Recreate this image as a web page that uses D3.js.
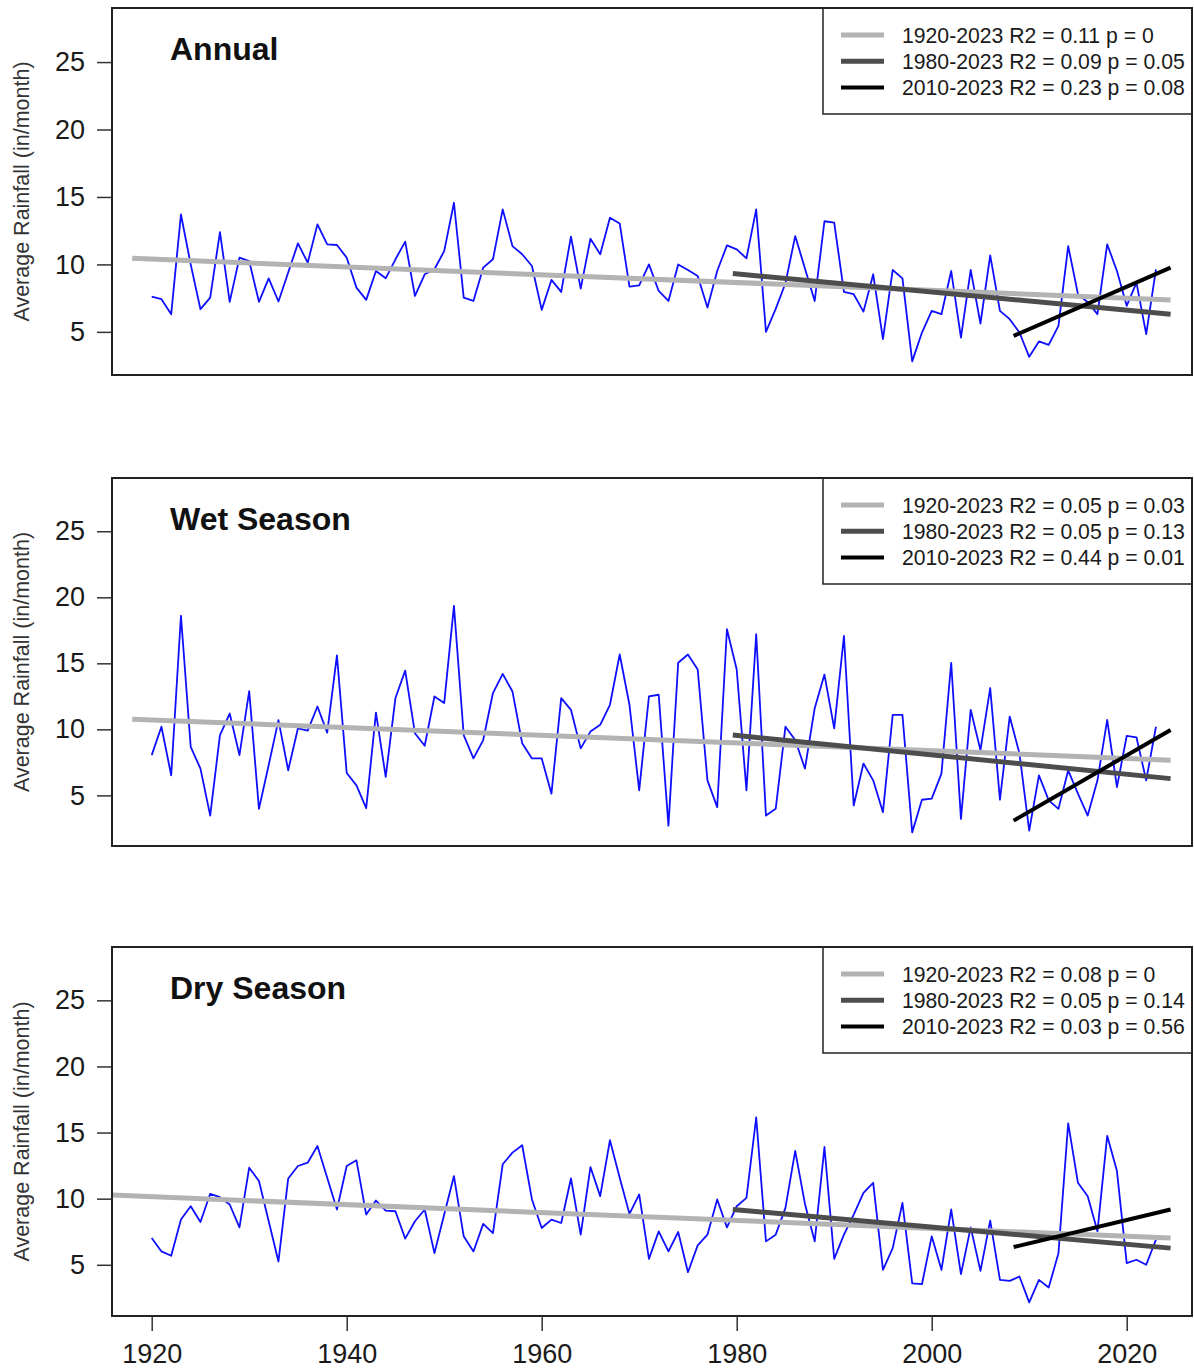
<!DOCTYPE html>
<html>
<head>
<meta charset="utf-8">
<script src="https://cdn.jsdelivr.net/npm/d3@7/dist/d3.min.js"></script>
<style>
body { margin: 0; background: #fff; }
text { font-family: "Liberation Sans", Arial, sans-serif; }
</style>
</head>
<body>
<svg id="svg" width="1194" height="1372"></svg>
<script>
var years = d3.range(1920, 2024);

var annual = [
  7.62, 7.42, 6.31, 13.7, 10.0, 6.68, 7.54, 12.4, 7.22, 10.5,
  10.25, 7.22, 8.97, 7.25, 9.4, 11.56, 10.13, 12.97, 11.49, 11.44,
  10.5, 8.28, 7.37, 9.51, 8.97, 10.38, 11.69, 7.66, 9.27, 9.64,
  10.99, 14.57, 7.54, 7.29, 9.76, 10.38, 14.08, 11.36, 10.75, 9.88,
  6.63, 8.85, 7.96, 12.06, 8.21, 11.9, 10.75, 13.46, 13.04, 8.36,
  8.45, 10.0, 8.03, 7.29, 10.0, 9.59, 9.14, 6.8, 9.51, 11.41,
  11.12, 10.45, 14.08, 5.0, 6.7, 8.6, 12.1, 9.7, 7.29, 13.2,
  13.09, 7.96, 7.79, 6.5, 9.27, 4.46, 9.59, 8.97, 2.81, 4.95,
  6.56, 6.31, 9.51, 4.58, 9.59, 5.62, 10.67, 6.56, 5.94, 4.95,
  3.15, 4.29, 4.04, 5.44, 11.36, 7.8, 7.2, 6.31, 11.49, 9.51,
  6.93, 8.65, 4.83, 9.64
];

var wet = [
  8.05, 10.2, 6.52, 18.6, 8.68, 7.03, 3.47, 9.57, 11.2, 8.05,
  12.9, 3.98, 7.3, 10.7, 6.9, 10.08, 9.9, 11.73, 9.75, 15.6,
  6.7, 5.76, 4.03, 11.27, 6.4, 12.37, 14.45, 9.7, 8.76, 12.49,
  11.99, 19.35, 9.57, 7.8, 9.19, 12.75, 14.2, 12.87, 8.94, 7.8,
  7.8, 5.13, 12.37, 11.48, 8.56, 9.83, 10.34, 11.86, 15.67, 11.86,
  5.38, 12.49, 12.62, 2.71, 15.04, 15.67, 14.53, 6.14, 4.11, 17.58,
  14.53, 5.38, 17.2, 3.47, 3.98, 10.2, 9.19, 7.03, 11.6, 14.15,
  10.08, 17.07, 4.24, 7.41, 6.14, 3.73, 11.1, 11.1, 2.2, 4.67,
  4.75, 6.65, 15.04, 3.22, 11.48, 8.43, 13.13, 4.67, 10.97, 8.18,
  2.33, 6.52, 4.62, 3.98, 6.9, 5.13, 3.47, 6.14, 10.72, 5.63,
  9.5, 9.4, 6.14, 10.2
];

var dry = [
  7.02, 6.01, 5.68, 8.42, 9.43, 8.24, 10.37, 10.11, 9.56, 7.83,
  12.34, 11.33, 8.29, 5.25, 11.53, 12.47, 12.72, 13.99, 11.58, 9.18,
  12.47, 12.9, 8.8, 9.86, 9.1, 9.05, 6.98, 8.29, 9.18, 5.88,
  8.8, 11.71, 7.15, 6.01, 8.09, 7.4, 12.6, 13.48, 14.04, 9.94,
  7.78, 8.42, 8.16, 11.53, 7.28, 12.39, 10.19, 14.42, 11.58, 8.85,
  10.32, 5.45, 7.53, 6.01, 7.48, 4.44, 6.47, 7.28, 9.94, 7.83,
  9.43, 10.06, 16.14, 6.77, 7.28, 9.3, 13.61, 9.6, 6.77, 13.91,
  5.45, 7.28, 8.8, 10.44, 11.2, 4.62, 6.26, 9.68, 3.6, 3.53,
  7.15, 4.62, 9.18, 4.29, 7.83, 4.54, 8.34, 3.86, 3.78, 4.11,
  2.16, 3.86, 3.28, 5.88, 15.69, 11.2, 10.19, 7.53, 14.75, 12.09,
  5.12, 5.38, 5.0, 6.9
];

var panelTitles = ["Annual", "Wet Season", "Dry Season"];
var periods = ["1920-2023", "1980-2023", "2010-2023"];

var annualStats = ["R2 = 0.11 p = 0", "R2 = 0.09 p = 0.05", "R2 = 0.23 p = 0.08"];
var wetStats = ["R2 = 0.05 p = 0.03", "R2 = 0.05 p = 0.13", "R2 = 0.44 p = 0.01"];
var dryStats = ["R2 = 0.08 p = 0", "R2 = 0.05 p = 0.14", "R2 = 0.03 p = 0.56"];

// fitted trend lines: [start year, start value, end year, end value]
var annualTrends = [[1918, 10.45, 2024.5, 7.37], [1979.6, 9.32, 2024.5, 6.31], [2008.4, 4.7, 2024.5, 9.76]];
var wetTrends = [[1918, 10.77, 2024.5, 7.67], [1979.6, 9.57, 2024.5, 6.27], [2008.4, 3.09, 2024.5, 9.95]];
var dryTrends = [[1915.9, 10.27, 2024.5, 7.02], [1979.6, 9.18, 2024.5, 6.26], [2008.4, 6.34, 2024.5, 9.18]];

var yTicks = [5, 10, 15, 20, 25];
var xTicks = [1920, 1940, 1960, 1980, 2000, 2020];
var yTop = 28;

var panels = [
  {title: panelTitles[0], values: annual, stats: annualStats, trends: annualTrends, top: 8, bottom: 375},
  {title: panelTitles[1], values: wet, stats: wetStats, trends: wetTrends, top: 478, bottom: 846},
  {title: panelTitles[2], values: dry, stats: dryStats, trends: dryTrends, top: 947, bottom: 1316}
];

var trendColors = ["#b3b3b3", "#4d4d4d", "#000000"];
var trendWidths = [5, 5, 4];

var left = 112, right = 1192;
var svg = d3.select("#svg");

// x: 1920 -> 151.7, 2020 -> 1126.7
var x = d3.scaleLinear().domain([1920, 2020]).range([151.7, 1126.7]);

panels.forEach(function(p, pi) {
  var lo = d3.min(p.values);
  var pad = 0.04 * (yTop - lo);
  var y = d3.scaleLinear().domain([lo - pad, yTop + pad]).range([p.bottom, p.top]);
  var g = svg.append("g");

  g.append("defs").append("clipPath").attr("id", "clip" + pi)
    .append("rect").attr("x", left).attr("y", p.top)
    .attr("width", right - left).attr("height", p.bottom - p.top);

  var plot = g.append("g").attr("clip-path", "url(#clip" + pi + ")");

  var line = d3.line()
    .x(function(d, i) { return x(years[i]); })
    .y(function(d) { return y(d); });

  plot.append("path")
    .datum(p.values)
    .attr("d", line)
    .attr("fill", "none")
    .attr("stroke", "#0f0fff")
    .attr("stroke-width", 1.8)
    .attr("stroke-linejoin", "round");

  plot.selectAll("line.trend")
    .data(p.trends)
    .enter().append("line")
    .attr("class", "trend")
    .attr("x1", function(d) { return x(d[0]); })
    .attr("y1", function(d) { return y(d[1]); })
    .attr("x2", function(d) { return x(d[2]); })
    .attr("y2", function(d) { return y(d[3]); })
    .attr("stroke", function(d, i) { return trendColors[i]; })
    .attr("stroke-width", function(d, i) { return trendWidths[i]; });

  // y axis
  var yAxis = g.append("g")
    .attr("transform", "translate(" + left + ",0)")
    .call(d3.axisLeft(y).tickValues(yTicks).tickSize(15).tickPadding(12));
  yAxis.select(".domain").remove();
  yAxis.selectAll(".tick line").attr("stroke", "#333").attr("stroke-width", 1.5);
  yAxis.selectAll(".tick text")
    .attr("font-family", "Liberation Sans, Arial, sans-serif")
    .attr("font-size", "27px")
    .attr("fill", "#1a1a1a");

  g.append("text")
    .attr("transform", "translate(29," + ((p.top + p.bottom) / 2) + ") rotate(-90)")
    .attr("text-anchor", "middle")
    .attr("font-size", "21.5px")
    .attr("fill", "#333")
    .text("Average Rainfall (in/month)");

  g.append("text")
    .attr("x", 170)
    .attr("y", p.top + 52)
    .attr("font-size", "32px")
    .attr("font-weight", "bold")
    .attr("fill", "#111")
    .text(p.title);

  // legend
  var lg = g.append("g");
  lg.append("rect")
    .attr("x", 823).attr("y", p.top)
    .attr("width", right - 823).attr("height", 106)
    .attr("fill", "#fff").attr("stroke", "#222").attr("stroke-width", 1.5);
  lg.selectAll("line")
    .data(periods)
    .enter().append("line")
    .attr("x1", 841).attr("x2", 884)
    .attr("y1", function(d, i) { return p.top + 27 + i * 26.2; })
    .attr("y2", function(d, i) { return p.top + 27 + i * 26.2; })
    .attr("stroke", function(d, i) { return trendColors[i]; })
    .attr("stroke-width", function(d, i) { return trendWidths[i]; });
  lg.selectAll("text")
    .data(periods)
    .enter().append("text")
    .attr("x", 902)
    .attr("y", function(d, i) { return p.top + 27 + i * 26.2; })
    .attr("dy", "0.36em")
    .attr("font-size", "21.2px")
    .attr("fill", "#1a1a1a")
    .text(function(d, i) { return d + " " + p.stats[i]; });

  // frame
  g.append("rect")
    .attr("x", left).attr("y", p.top)
    .attr("width", right - left).attr("height", p.bottom - p.top)
    .attr("fill", "none").attr("stroke", "#222").attr("stroke-width", 2);

  if (pi === 2) {
    var xAxis = g.append("g")
      .attr("transform", "translate(0," + p.bottom + ")")
      .call(d3.axisBottom(x).tickValues(xTicks).tickFormat(d3.format("d")).tickSize(15).tickPadding(13));
    xAxis.select(".domain").remove();
    xAxis.selectAll(".tick line").attr("stroke", "#333").attr("stroke-width", 1.5);
    xAxis.selectAll(".tick text")
      .attr("font-family", "Liberation Sans, Arial, sans-serif")
      .attr("font-size", "27px")
      .attr("fill", "#1a1a1a");
  }
});
</script>
</body>
</html>
